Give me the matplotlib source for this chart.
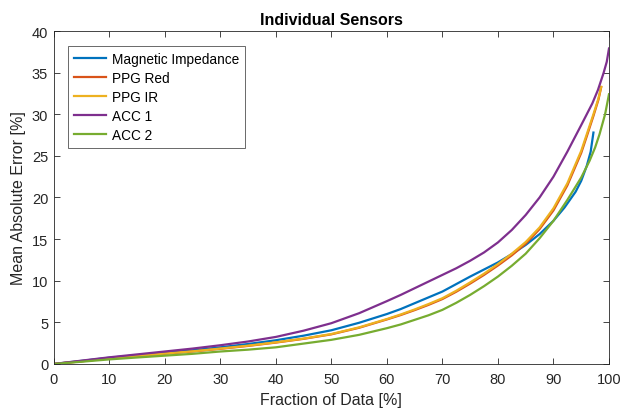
import matplotlib
matplotlib.use("Agg")
from matplotlib import pyplot as plt

plt.rcParams['font.family'] = ['Liberation Sans', 'DejaVu Sans']

# fraction of data [%] vs mean absolute error [%]
x_mi = [0, 5, 10, 15, 20, 25, 30, 35, 40, 45, 50, 55, 60, 62.5, 65, 67.5, 70, 72.5, 75, 77.5, 80,
        82.5, 85, 87.5, 90, 92, 94, 95, 96, 96.7, 97.2]
mi = [0, 0.37, 0.75, 1.05, 1.35, 1.65, 2.0, 2.4, 2.85, 3.4, 4.05, 4.95, 6.0, 6.6, 7.3, 8.0, 8.7, 9.6, 10.5, 11.35, 12.2,
      13.2, 14.3, 15.6, 17.2, 18.8, 20.7, 22.0, 23.8, 25.5, 27.8]

x_ppg = [0, 5, 10, 15, 20, 25, 30, 35, 40, 45, 50, 55, 60, 62.5, 65, 67.5, 70, 72.5, 75, 77.5, 80,
         82.5, 85, 87.5, 90, 92.5, 95, 96, 97.2, 98.1, 98.6]
ppg_red = [0, 0.32, 0.68, 0.96, 1.23, 1.5, 1.82, 2.17, 2.57, 3.02, 3.56, 4.35, 5.35, 5.88, 6.47, 7.1, 7.8, 8.68, 9.66, 10.7, 11.83,
           13.05, 14.45, 16.2, 18.45, 21.45, 25.35, 27.35, 29.8, 31.75, 33.25]
ppg_ir = [0, 0.33, 0.7, 0.98, 1.25, 1.52, 1.85, 2.2, 2.6, 3.05, 3.6, 4.4, 5.4, 5.95, 6.55, 7.2, 7.9, 8.8, 9.8, 10.85, 12.0,
          13.25, 14.65, 16.4, 18.7, 21.7, 25.6, 27.6, 30.0, 31.9, 33.3]

x_acc1 = [0, 5, 10, 15, 20, 25, 30, 35, 40, 45, 50, 55, 60, 62.5, 65, 67.5, 70, 72.5, 75, 77.5, 80,
          82.5, 85, 87.5, 90, 92.5, 95, 97, 98, 99, 99.6, 100]
acc1 = [0, 0.4, 0.8, 1.15, 1.5, 1.85, 2.25, 2.7, 3.25, 4.0, 4.9, 6.1, 7.55, 8.3, 9.1, 9.9, 10.7, 11.5, 12.4, 13.4, 14.6,
        16.1, 17.9, 20.0, 22.5, 25.5, 28.7, 31.3, 32.9, 34.9, 36.3, 37.9]

x_acc2 = [0, 5, 10, 15, 20, 25, 30, 35, 40, 45, 50, 55, 60, 62.5, 65, 67.5, 70, 72.5, 75, 77.5, 80,
          82.5, 85, 87.5, 90, 92.5, 95, 96.5, 97.5, 98.3, 99.3, 100]
acc2 = [0, 0.27, 0.55, 0.78, 1.0, 1.22, 1.5, 1.72, 2.0, 2.45, 2.9, 3.5, 4.3, 4.75, 5.3, 5.85, 6.5, 7.35, 8.3, 9.35, 10.5,
        11.8, 13.25, 15.1, 17.2, 19.7, 22.4, 24.4, 26.0, 27.6, 30.0, 32.4]

labels = ['Magnetic Impedance', 'PPG Red', 'PPG IR', 'ACC 1', 'ACC 2']
colors = ['#0072BD', '#D95319', '#EDB120', '#7E2F8E', '#77AC30']

fig = plt.figure(figsize=(6.23, 4.14), dpi=100)
ax = fig.add_axes([0.0862, 0.1184, 0.8913, 0.8043])

series = [(x_mi, mi), (x_ppg, ppg_red), (x_ppg, ppg_ir), (x_acc1, acc1), (x_acc2, acc2)]
for (xs, ys), lab, c in zip(series, labels, colors):
    ax.plot(xs, ys, color=c, lw=1.6, label=lab)

ax.set_xlim(0, 100)
ax.set_ylim(0, 40)
ax.set_xticks(range(0, 101, 10))
ax.set_yticks(range(0, 41, 5))

grey = '#262626'
for s in ax.spines.values():
    s.set_color(grey)
    s.set_linewidth(0.6)
ax.tick_params(direction='in', top=True, right=True, length=4, width=0.6,
               colors=grey, labelsize=10.5)
ax.tick_params(axis='x', pad=6)
ax.tick_params(axis='y', pad=4)

ax.set_xlabel('Fraction of Data [%]', fontsize=11.5, color=grey, labelpad=4)
ax.set_ylabel('Mean Absolute Error [%]', fontsize=11.5, color=grey, labelpad=4)
ax.set_title('Individual Sensors', fontsize=11.5, fontweight='bold', color='black', pad=5)

leg = ax.legend(loc='upper left', bbox_to_anchor=(0.026, 0.955), fontsize=9.8,
                frameon=True, fancybox=False, handlelength=2.3, handletextpad=0.45,
                labelspacing=0.36, borderpad=0.45, borderaxespad=0)
leg.get_frame().set_edgecolor(grey)
leg.get_frame().set_linewidth(0.6)

fig.savefig('out.png', dpi=100)
